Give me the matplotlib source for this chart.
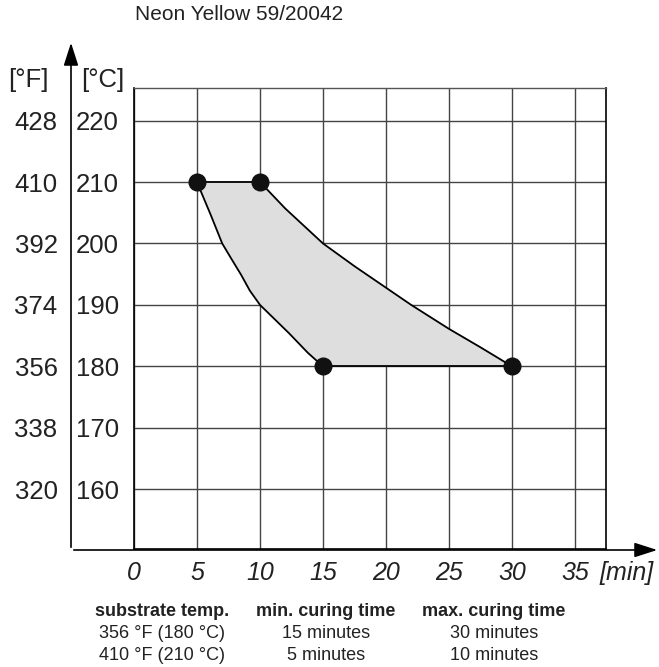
import matplotlib.pyplot as plt
from matplotlib.patches import FancyArrowPatch

plt.rcParams['font.family'] = ['Liberation Sans', 'DejaVu Sans']

title = "Neon Yellow 59/20042"

# curing window
left_min = [5, 5.2, 6.1, 7.0, 7.7, 8.5, 9.2, 10, 11.2, 12.3, 13.8, 15]
left_temp = [210, 209.0, 204.6, 200, 197.6, 194.9, 192.3, 190, 187.6, 185.4, 182.2, 180]
right_min = [10, 12.0, 15, 17.5, 20, 22.0, 25, 27.5, 30]
right_temp = [210, 205.7, 200, 196.3, 192.8, 190, 186.1, 183.1, 180]
corner_min = [5, 10, 15, 30]
corner_temp = [210, 210, 180, 180]

x_ticks = [0, 5, 10, 15, 20, 25, 30, 35]
c_ticks = [160, 170, 180, 190, 200, 210, 220]
f_labels = ["320", "338", "356", "374", "392", "410", "428"]

headers = ["substrate temp.", "min. curing time", "max. curing time"]
rows = [["356 °F (180 °C)", "15 minutes", "30 minutes"],
        ["410 °F (210 °C)", "5 minutes", "10 minutes"]]

W, H = 659, 667
fig = plt.figure(figsize=(W / 100, H / 100), dpi=100)
ax = fig.add_axes([134 / W, 1 - 549 / H, 472 / W, 461 / H])

# shaded window: upper curve, bottom edge, lower curve back, top edge
poly_x = right_min + left_min[::-1]
poly_y = right_temp + left_temp[::-1]
ax.fill(poly_x, poly_y, color='#dddedd', zorder=2, lw=0)
ax.plot(left_min, left_temp, color='black', lw=1.3, zorder=3)
ax.plot(right_min, right_temp, color='black', lw=1.3, zorder=3)
ax.plot([5, 10], [210, 210], color='black', lw=1.3, zorder=3)
ax.plot([15, 30], [180, 180], color='black', lw=1.3, zorder=3)
ax.plot(corner_min, corner_temp, 'o', color='#111111', markersize=12, zorder=4, ls='none')

ax.set_xlim(0, 37.46)
ax.set_ylim(150.28, 225.3)
ax.set_xticks(x_ticks)
ax.set_yticks(c_ticks)
ax.grid(True, color='#444444', lw=1.0, zorder=1)
ax.set_axisbelow(True)
ax.tick_params(length=0)
ax.set_xticklabels([str(t) for t in x_ticks], fontsize=18, style='italic', color='#222222')
ax.tick_params(axis='x', pad=9)
ax.set_yticklabels([str(t) for t in c_ticks], fontsize=18.5, color='#222222')
ax.tick_params(axis='y', pad=11)
for side in ['left', 'right', 'bottom']:
    ax.spines[side].set_color('black')
    ax.spines[side].set_linewidth(1.2)
ax.spines['top'].set_color('#555555')
ax.spines['top'].set_linewidth(1.0)

# Fahrenheit column
sec = ax.secondary_yaxis('left', functions=(lambda c: c * 9 / 5 + 32, lambda f: (f - 32) * 5 / 9))
sec.set_yticks([int(s) for s in f_labels])
sec.set_yticklabels(f_labels, fontsize=18.5, color='#222222')
sec.tick_params(length=0, pad=55)
sec.spines['left'].set_visible(False)

# axis arrows
fig.patches.append(FancyArrowPatch((71, H - 550), (71, H - 40), transform=None,
                                   arrowstyle='-|>,head_length=1.4,head_width=0.45',
                                   mutation_scale=10, color='black', lw=1.2))
fig.patches.append(FancyArrowPatch((71, H - 550), (660, H - 550), transform=None,
                                   arrowstyle='-|>,head_length=1.4,head_width=0.45',
                                   mutation_scale=10, color='black', lw=1.2))

fig.text(28 / W, 1 - 80 / H, "[°F]", fontsize=18.5, ha='center', va='center', color='#222222')
fig.text(103 / W, 1 - 80 / H, "[°C]", fontsize=18.5, ha='center', va='center', color='#222222')
fig.text(627 / W, 1 - 573 / H, "[min]", fontsize=18, style='italic', ha='center', va='center', color='#222222')
fig.text(135 / W, 1 - 15 / H, title, fontsize=15, ha='left', va='center', color='#222222')

# small table under the chart
col_x = [162, 326, 494]
for cx, head in zip(col_x, headers):
    fig.text(cx / W, 1 - 612 / H, head, fontsize=13, weight='bold', ha='center', va='center', color='#222222')
for r, row in enumerate(rows):
    for cx, cell in zip(col_x, row):
        fig.text(cx / W, 1 - (634 + 22 * r) / H, cell, fontsize=13, ha='center', va='center', color='#222222')

fig.savefig('out.png', dpi=100)
